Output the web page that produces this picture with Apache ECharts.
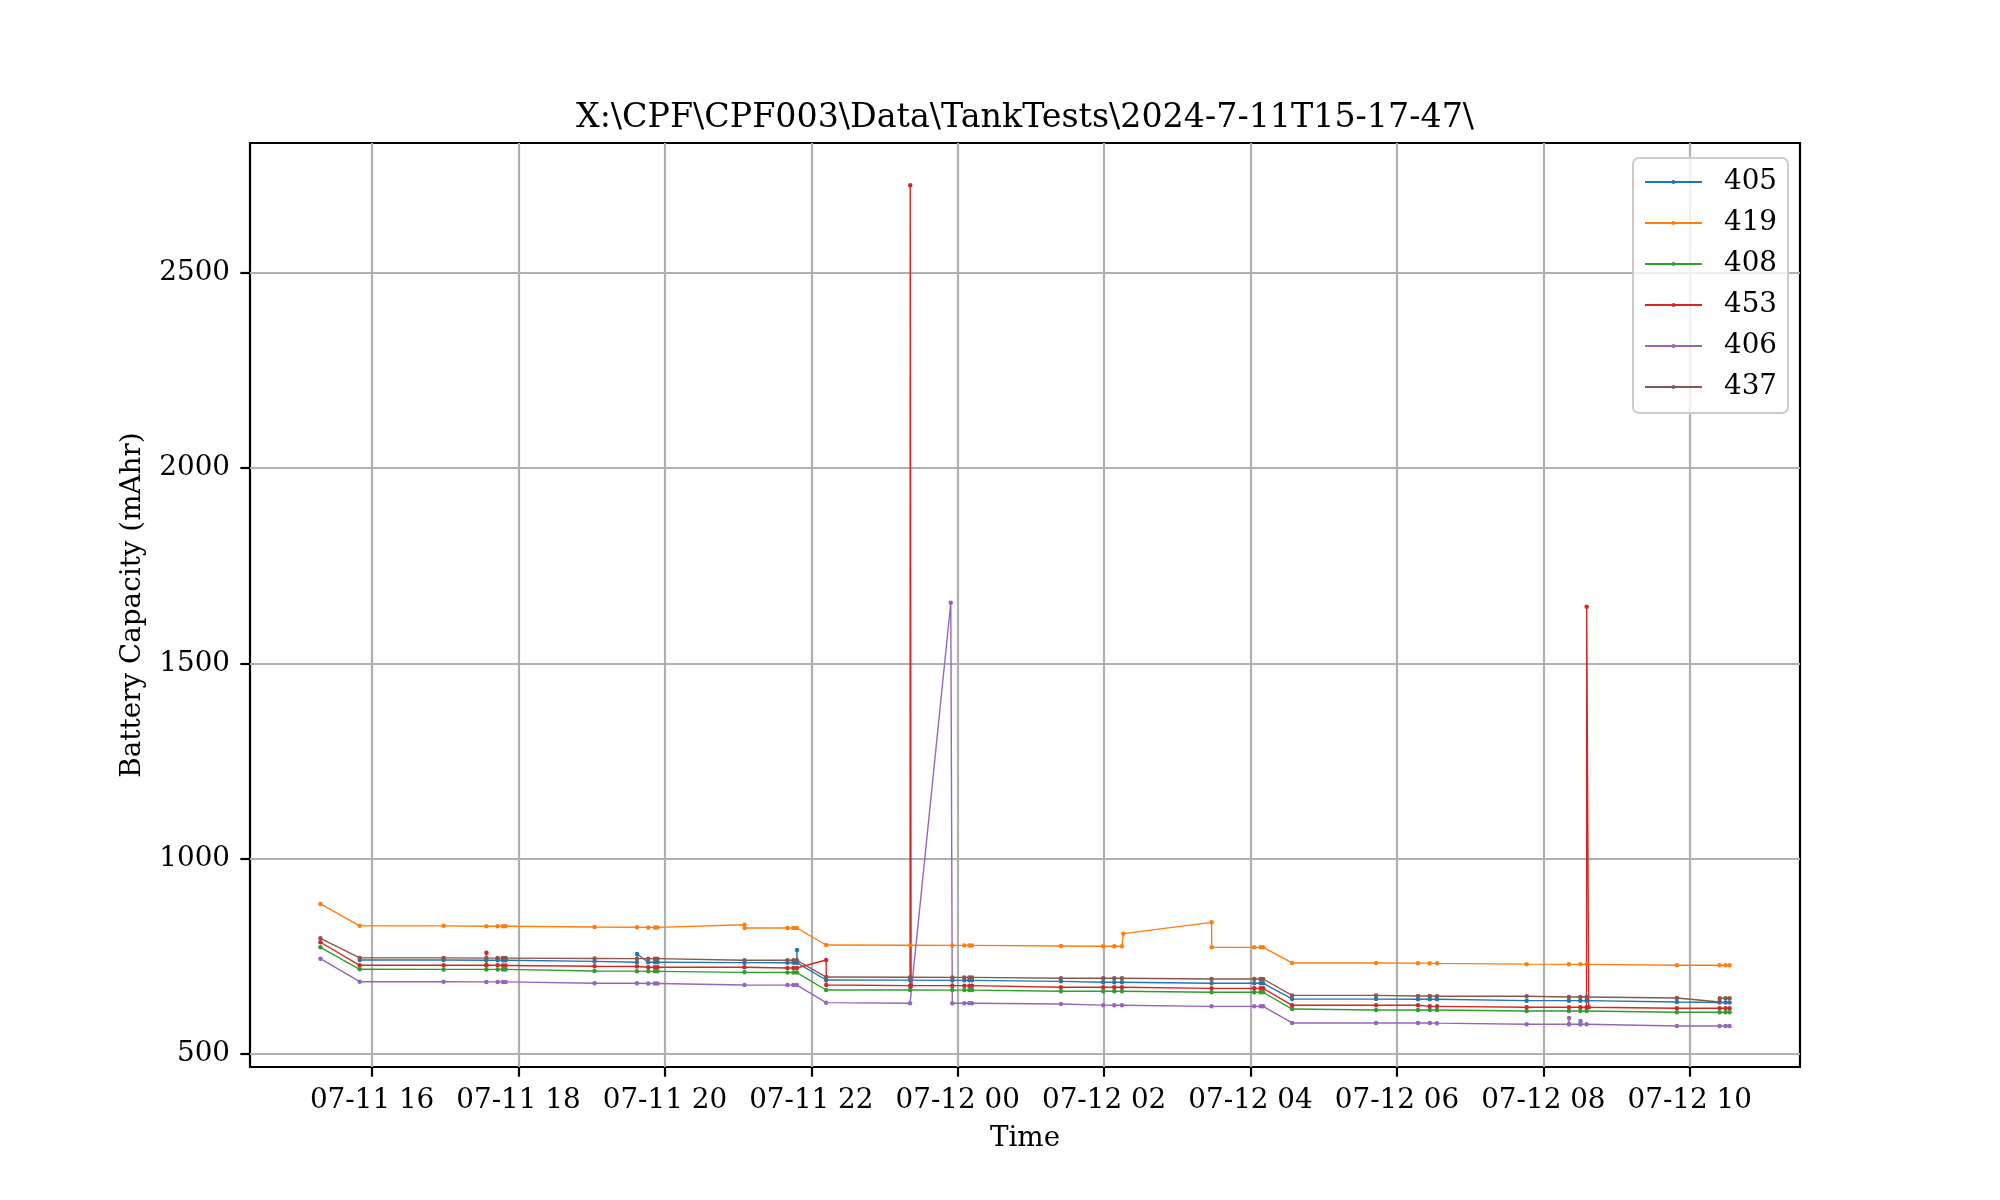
<!DOCTYPE html>
<html><head><meta charset="utf-8">
<script src="https://cdn.jsdelivr.net/npm/echarts@6/dist/echarts.min.js"></script>
<style>html,body{margin:0;padding:0;background:#fff}#c{width:2000px;height:1200px}</style>
</head><body><div id="c"></div>
<script>
// Time in hours since 2024-07-11 00:00
const times = [15.294,15.831,16.977,17.560,17.562,17.564,17.715,17.788,17.824,19.039,
  19.618,19.620,19.772,19.863,19.899,21.087,21.089,21.674,21.756,21.802,
  21.804,21.806,22.202,22.204,23.349,23.351,23.363,23.905,23.926,24.090,
  24.158,24.195,25.410,25.988,26.138,26.243,26.262,27.468,27.470,28.050,
  28.137,28.172,28.568,29.715,30.288,30.448,30.547,31.772,32.349,32.351,
  32.353,32.505,32.507,32.509,32.590,32.592,32.620,33.824,34.407,34.410,
  34.489,34.544];
const s405 = [null,740.6,740.5,740,null,null,740,740,740,737,
  735,756,735,735,735,733.8,null,733.5,733.5,733.5,
  766,733.5,689.4,null,689,null,null,null,688.5,688.5,
  688.5,688.5,686,683.5,683.5,683.5,null,681,null,681,
  681,681,640.8,640.5,640,640,640,636.5,636.5,null,
  null,636.5,null,null,636.5,null,null,633,632,null,
  632,632];
const s419 = [884,828,828,827,null,null,827,827,827,825,
  824.5,null,824,824,824,831,822.5,822.5,822.5,822.5,
  null,null,779,null,778.5,null,null,null,778,778,
  778,778,776.5,775.7,775.7,775.7,808,837,773,773,
  773,773,733,733,732.5,732.5,732,730,729.5,null,
  null,729.5,null,null,729.5,null,null,727,727,null,
  727,727];
const s408 = [773,716.8,716.5,716.5,null,null,716.5,716.5,716.5,712.5,
  712,null,711.5,711.5,711.5,709,null,708.5,708.5,708.5,
  null,null,663.8,null,663.8,null,null,null,663.5,663.5,
  663.5,663.5,660.5,660.5,660.5,660.5,null,658,null,658,
  658,658,615,612.6,612.6,612.6,612.6,610,610,null,
  null,610,null,null,610,null,null,606.7,606.7,null,
  606.7,606.7];
const s453 = [786,727,727,727,759,727,727,726.5,726.5,724.5,
  724,null,722,722,722,722,null,720,720,720,
  null,null,740.6,676.6,675,2724,675,null,675,675,
  675,675,670.7,670.7,670.7,670.7,null,668,null,668,
  668,668,624.6,624.6,624.6,622,622,619.5,619.5,null,
  null,619.5,null,null,619.5,1645,619.5,617,617,null,
  617,617];
const s406 = [744,685,685,684.5,null,null,684.5,684.5,684.5,681,
  681,null,680.5,680.5,680.5,676.6,null,676.3,676.3,676.3,
  null,null,631.4,null,629.7,null,null,1655,630,630,
  630,630,628,625,624.6,624.6,null,622,null,622,
  622,622,579.4,579.4,579.4,579.4,579,576,576,592,
  576,576,584.5,576,576,null,null,571.7,571.7,null,
  571.7,571.7];
const s437 = [796,746,746,745.5,null,null,745.5,745.5,745.5,744.5,
  744,null,744,744,744,740,null,740,740,740,
  null,null,697,null,696.5,null,null,null,696,696,
  696,696,694,693.7,694,694,null,692,null,692,
  692,692,650,650,648.5,648.5,648,648,646,null,
  null,646,null,null,646,null,null,643.5,633,643,
  643,643];

const seriesNames = ['405','419','408','453','406','437'];
const seriesValues = [s405,s419,s408,s453,s406,s437];
const colors = ['#1f77b4','#ff7f0e','#2ca02c','#d62728','#9467bd','#8c564b'];
const xTickValues = [16,18,20,22,24,26,28,30,32,34];
const xTickLabels = ['07-11 16','07-11 18','07-11 20','07-11 22','07-12 00','07-12 02','07-12 04','07-12 06','07-12 08','07-12 10'];
const yTickValues = [500,1000,1500,2000,2500];
const yTickLabels = ['500','1000','1500','2000','2500'];
const titleText = 'X:\\CPF\\CPF003\\Data\\TankTests\\2024-7-11T15-17-47\\';

const FONT = '"DejaVu Serif", serif';
const chart = echarts.init(document.getElementById('c'), null, {renderer:'canvas'});
const series = seriesNames.map((n, k) => ({
  name: n, type: 'line',
  data: times.map((t, i) => [t, seriesValues[k][i]]).filter(d => d[1] !== null),
  symbol: 'circle', symbolSize: 4.5, showSymbol: true,
  lineStyle: {width: 1.4, color: colors[k]},
  itemStyle: {color: colors[k]},
  animation: false, emphasis: {disabled: true}
}));
chart.setOption({
  animation: false,
  color: colors,
  grid: {left: 250, top: 143, width: 1550, height: 924, show: true, borderColor: '#000', borderWidth: 2.2, backgroundColor: '#fff', containLabel: false},
  xAxis: {
    type: 'value', min: 14.332, max: 35.506,
    axisLine: {show: false},
    axisTick: {show: true, length: 9.7, lineStyle: {color: '#000', width: 2.2}, customValues: xTickValues},
    axisLabel: {show: true, customValues: xTickValues, margin: 20, color: '#000', fontFamily: FONT, fontSize: 27.8,
      formatter: v => { const i = xTickValues.indexOf(v); return i >= 0 ? xTickLabels[i] : ''; }},
    splitLine: {show: true, lineStyle: {color: '#b0b0b0', width: 2.2}}
  },
  yAxis: {
    type: 'value', min: 466.7, max: 2832,
    axisLine: {show: false},
    axisTick: {show: true, length: 9.7, lineStyle: {color: '#000', width: 2.2}, customValues: yTickValues},
    axisLabel: {show: true, customValues: yTickValues, margin: 20, color: '#000', fontFamily: FONT, fontSize: 27.8,
      formatter: v => { const i = yTickValues.indexOf(v); return i >= 0 ? yTickLabels[i] : ''; }},
    splitLine: {show: true, lineStyle: {color: '#b0b0b0', width: 2.2}}
  },
  legend: {
    orient: 'vertical', left: 1633, top: 158,
    data: seriesNames,
    itemWidth: 57, itemHeight: 5, itemGap: 9,
    padding: [8, 11, 10, 11],
    backgroundColor: 'rgba(255,255,255,0.8)', borderColor: '#cccccc', borderWidth: 2, borderRadius: 6,
    textStyle: {fontFamily: FONT, fontSize: 27.8, color: '#000', lineHeight: 32, padding: [0, 0, 0, 17]},
    selectedMode: false
  },
  graphic: [
    {type: 'text', x: 1025, y: 118, style: {text: titleText, font: '33.3px ' + FONT, fill: '#000', align: 'center', verticalAlign: 'middle'}},
    {type: 'text', x: 1025, y: 1139, style: {text: 'Time', font: '27.8px ' + FONT, fill: '#000', align: 'center', verticalAlign: 'middle'}},
    {type: 'text', x: 133, y: 605, rotation: Math.PI / 2, style: {text: 'Battery Capacity (mAhr)', font: '27.8px ' + FONT, fill: '#000', align: 'center', verticalAlign: 'middle'}}
  ],
  series: series
});
</script></body></html>
